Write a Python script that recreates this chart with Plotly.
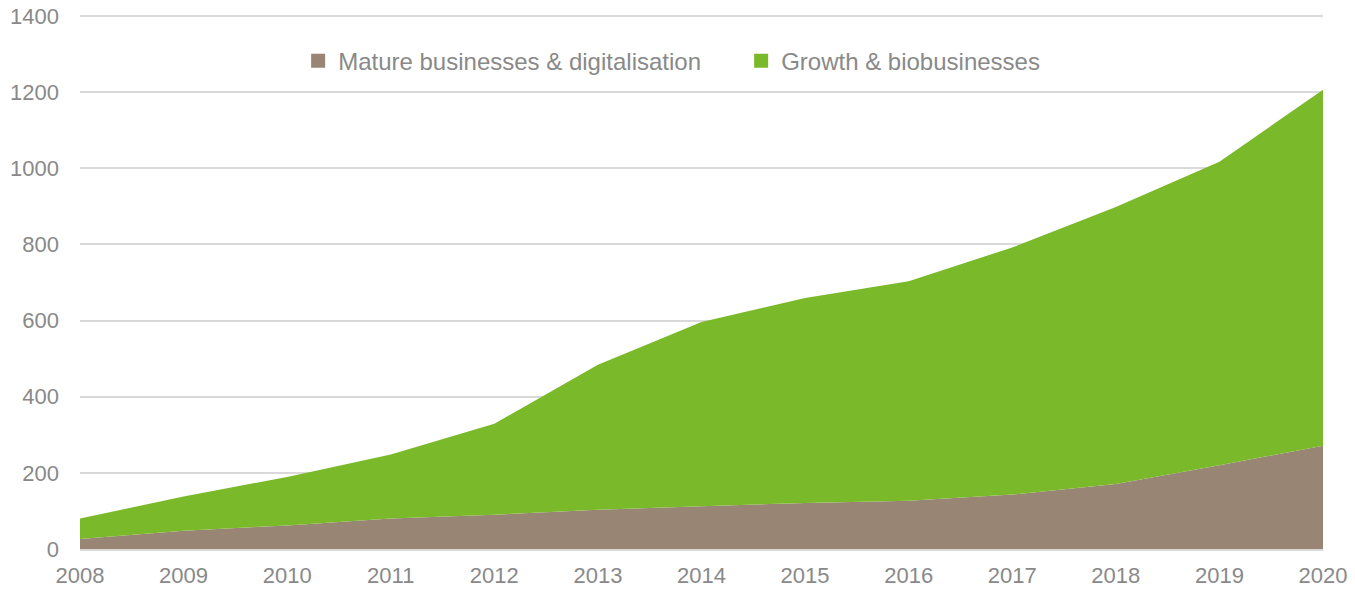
import plotly.graph_objects as go

years = [2008, 2009, 2010, 2011, 2012, 2013, 2014, 2015, 2016, 2017, 2018, 2019, 2020]
mature = [26, 48, 62, 80, 90, 103, 112, 121, 127, 143, 171, 220, 271]
growth = [54, 90, 127, 168, 239, 381, 484, 538, 576, 649, 727, 797, 935]

series_names = ["Mature businesses & digitalisation", "Growth & biobusinesses"]
series_colors = ["#998574", "#7AB92A"]

grey = "#898989"

fig = go.Figure()
for vals, name, col in zip([mature, growth], series_names, series_colors):
    fig.add_trace(go.Scatter(
        x=years, y=vals, name=name, mode="none", stackgroup="one",
        fillcolor=col, showlegend=False,
    ))
# square legend keys
for name, col in zip(series_names, series_colors):
    fig.add_trace(go.Scatter(
        x=[None], y=[None], name=name, mode="markers",
        marker=dict(symbol="square", size=14, color=col),
    ))

fig.update_layout(
    width=1355, height=595,
    margin=dict(l=80, r=32, t=14, b=46),
    plot_bgcolor="white", paper_bgcolor="white",
    font=dict(family="Liberation Sans, Arial, sans-serif", color=grey, size=22),
    showlegend=True,
    legend=dict(
        orientation="h", x=0.1755, y=0.912, xanchor="left", yanchor="middle",
        font=dict(size=24, color=grey), entrywidth=398, itemwidth=30,
        traceorder="normal", bgcolor="rgba(0,0,0,0)",
    ),
    hovermode=False,
)
fig.update_xaxes(
    range=[2008, 2020], dtick=1, tick0=2008, showgrid=False, zeroline=False,
    showline=True, linecolor="#d9d9d9", linewidth=2, ticks="",
    tickfont=dict(size=22, color=grey), ticklabelstandoff=6, automargin=False,
)
# a little headroom so the 1400 gridline is not dropped at the edge
fig.update_yaxes(
    range=[0, 1405], tick0=0, dtick=200, showgrid=True, gridcolor="#d9d9d9", gridwidth=1.5,
    zeroline=False, showline=False, ticks="",
    tickfont=dict(size=22, color=grey), ticklabelstandoff=20, automargin=False,
)

# drop the default page margin so the figure sits at the window corner
fig.write_html("out.html", config={"displayModeBar": False},
               post_script="document.body.style.margin='0';")
